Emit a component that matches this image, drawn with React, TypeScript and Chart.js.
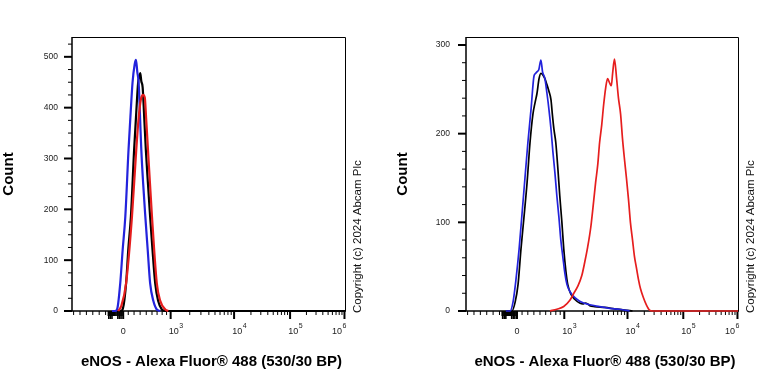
import React, { useEffect, useRef } from 'react';
import { Chart, registerables } from 'chart.js';

Chart.register(...registerables);

const FONT = '"Liberation Sans", Arial, Helvetica, sans-serif';

// ---- X axis: logicle display channels (0..1024) ----
const X_MIN = 0;
const X_MAX = 1024;
const X_TICK_CH = [192, 370, 608, 818, 1022];
const X_TICK_BASE = ['0', '10', '10', '10', '10'];
const X_TICK_EXP = ['', '3', '4', '5', '6'];
// minor tick fractions between 0 and 10^3 (100..900)
const LIN_MINOR_FRAC = [0.107, 0.229, 0.357, 0.486, 0.607, 0.714, 0.821, 0.914];
const X_TITLE = 'eNOS - Alexa Fluor® 488 (530/30 BP)';
const Y_TITLE = 'Count';
const COPYRIGHT = 'Copyright (c) 2024 Abcam Plc';

// ---- Left panel ----
const LEFT_Y_MAX = 539;
const LEFT_Y_MAJOR = [0, 100, 200, 300, 400, 500];
const LEFT_Y_MINOR_STEP = 25;

const LEFT_BLUE_CH = [150, 162, 170, 181, 190, 200, 212, 220, 227, 235, 240, 245, 250, 260, 267, 275, 284, 293, 305, 318, 331];
const LEFT_BLUE_COUNT = [0, 0, 5, 55, 120, 186, 317, 390, 449, 485, 494, 470, 449, 317, 250, 186, 120, 55, 20, 3, 0];

const LEFT_BLACK_CH = [171, 183, 191, 203, 211, 221, 233, 241, 248, 253, 256, 260, 265, 271, 277, 285, 293, 302, 312, 323, 337, 350, 1024];
const LEFT_BLACK_COUNT = [0, 0, 5, 55, 120, 186, 317, 390, 449, 462, 468, 452, 440, 380, 317, 250, 186, 120, 55, 20, 3, 0, 0];

const LEFT_RED_CH = [173, 185, 203, 225, 241, 250, 258, 266, 273, 278, 285, 300, 318, 331, 350, 361];
const LEFT_RED_COUNT = [0, 10, 55, 186, 317, 380, 415, 425, 420, 380, 317, 186, 55, 20, 3, 0];

// ---- Right panel ----
const RIGHT_Y_MAX = 309;
const RIGHT_Y_MAJOR = [0, 100, 200, 300];
const RIGHT_Y_MINOR_STEP = 20;

const RIGHT_BLUE_CH = [150, 166, 177, 188, 200, 211, 222, 233, 245, 256, 262, 268, 274, 282, 288, 297, 305, 312, 320, 327, 335, 342, 350, 357, 365, 372, 380, 391, 410, 428, 466, 503, 541, 578, 616];
const RIGHT_BLUE_COUNT = [0, 0, 10, 35, 70, 110, 150, 190, 228, 265, 268, 270, 272, 283, 270, 262, 245, 228, 205, 180, 155, 130, 105, 80, 60, 43, 30, 22, 15, 11, 7, 5, 3, 2, 0];

const RIGHT_BLACK_CH = [150, 173, 185, 196, 207, 218, 230, 241, 252, 260, 267, 275, 282, 290, 297, 305, 312, 320, 325, 331, 338, 346, 353, 361, 368, 376, 383, 395, 410, 428, 440, 449, 458, 466, 484, 522, 559, 597, 627];
const RIGHT_BLACK_COUNT = [0, 0, 10, 30, 70, 105, 145, 190, 222, 235, 245, 262, 268, 266, 262, 255, 248, 238, 222, 205, 190, 160, 130, 100, 70, 45, 30, 19, 13, 9, 8, 9, 8, 6, 5, 4, 2.5, 1, 0];

const RIGHT_RED_CH = [316, 342, 368, 391, 406, 421, 436, 447, 458, 470, 481, 488, 496, 503, 511, 518, 526, 533, 541, 547, 552, 559, 567, 574, 582, 589, 597, 604, 612, 619, 627, 634, 642, 649, 657, 668, 679, 691, 702, 1024];
const RIGHT_RED_COUNT = [0, 2, 5, 12, 20, 28, 40, 55, 72, 95, 125, 145, 165, 190, 210, 232, 252, 262, 257, 254, 268, 284, 262, 240, 222, 195, 170, 150, 125, 100, 80, 62, 48, 36, 25, 15, 7, 1, 0, 0];

const BLUE = '#2323dc';
const RED = '#e61e1e';
const BLACK = '#000000';

type PanelCfg = {
  offset: number;
  padding: { left: number; right: number; top: number; bottom: number };
  yMax: number;
  yMajor: number[];
  yMinorStep: number;
  yLabelGap: number;
  lineWidth: number;
  blue: [number[], number[]];
  black: [number[], number[]];
  red: [number[], number[]];
};

function toPts(ch: number[], cnt: number[]) {
  return ch.map((c, i) => ({ x: c, y: cnt[i] }));
}

function buildXTicks() {
  const ticks: { ch: number; len: number; w: number }[] = [];
  // negative (linear) region
  for (let c = 6; c < 134; c += 24) ticks.push({ ch: c, len: 4, w: 1 });
  // dense cluster around zero
  for (let c = 136; c < 192; c += 4) ticks.push({ ch: c, len: 5, w: 1.3 });
  [138, 144, 150, 172, 178, 184].forEach((c) => ticks.push({ ch: c, len: 8, w: 1.6 }));
  // 0 .. 10^3
  LIN_MINOR_FRAC.forEach((f) => ticks.push({ ch: X_TICK_CH[0] + (X_TICK_CH[1] - X_TICK_CH[0]) * f, len: 4, w: 1 }));
  // decades
  for (let d = 1; d < X_TICK_CH.length - 1; d++) {
    for (let k = 2; k <= 9; k++) {
      ticks.push({ ch: X_TICK_CH[d] + (X_TICK_CH[d + 1] - X_TICK_CH[d]) * Math.log10(k), len: 4, w: 1 });
    }
  }
  X_TICK_CH.forEach((c) => ticks.push({ ch: c, len: 8, w: 2 }));
  return ticks;
}

function makePlugin(cfg: PanelCfg) {
  return {
    id: 'flowAxes',
    beforeDatasetsDraw(chart: any) {
      const { ctx, chartArea: a, scales } = chart;
      const x = scales.x;
      const y = scales.y;
      ctx.save();
      ctx.strokeStyle = '#000';
      // frame
      ctx.lineWidth = 1;
      ctx.beginPath();
      ctx.moveTo(a.left, a.top + 0.5);
      ctx.lineTo(a.right + 0.5, a.top + 0.5);
      ctx.lineTo(a.right + 0.5, a.bottom);
      ctx.stroke();
      // axes
      ctx.lineWidth = 1.5;
      ctx.beginPath();
      ctx.moveTo(a.left, a.top);
      ctx.lineTo(a.left, a.bottom);
      ctx.lineTo(a.right + 1, a.bottom);
      ctx.stroke();
      // y ticks
      for (let v = 0; v <= cfg.yMax + 1e-6; v += cfg.yMinorStep) {
        const py = y.getPixelForValue(v);
        const major = cfg.yMajor.indexOf(v) >= 0;
        ctx.lineWidth = major ? 2 : 1;
        ctx.beginPath();
        ctx.moveTo(a.left - (major ? 8 : 4), py);
        ctx.lineTo(a.left, py);
        ctx.stroke();
      }
      // x ticks
      buildXTicks().forEach((t) => {
        const px = x.getPixelForValue(t.ch);
        ctx.lineWidth = t.w;
        ctx.beginPath();
        ctx.moveTo(px, a.bottom);
        ctx.lineTo(px, a.bottom + t.len);
        ctx.stroke();
      });
      ctx.restore();
    },
    afterDraw(chart: any) {
      const { ctx, chartArea: a, scales } = chart;
      const x = scales.x;
      const y = scales.y;
      ctx.save();
      // y tick labels
      ctx.fillStyle = '#222';
      ctx.font = `8.5px ${FONT}`;
      ctx.textAlign = 'right';
      ctx.textBaseline = 'middle';
      cfg.yMajor.forEach((v) => {
        ctx.fillText(String(v), a.left - cfg.yLabelGap, y.getPixelForValue(v));
      });
      // x tick labels
      X_TICK_CH.forEach((c, i) => {
        const px = x.getPixelForValue(c);
        const base = X_TICK_BASE[i];
        const exp = X_TICK_EXP[i];
        ctx.textBaseline = 'middle';
        if (!exp) {
          ctx.font = `9px ${FONT}`;
          ctx.textAlign = 'center';
          ctx.fillText(base, px, a.bottom + 21);
          return;
        }
        ctx.font = `9px ${FONT}`;
        const wb = ctx.measureText(base).width;
        ctx.font = `7px ${FONT}`;
        const we = ctx.measureText(exp).width;
        let left = px + 5 - (wb + we) / 2;
        if (left + wb + we > a.right + 1) left = a.right + 1 - wb - we;
        ctx.textAlign = 'left';
        ctx.font = `9px ${FONT}`;
        ctx.fillText(base, left, a.bottom + 21);
        ctx.font = `7px ${FONT}`;
        ctx.fillText(exp, left + wb + 0.5, a.bottom + 15);
      });
      // axis titles
      ctx.fillStyle = '#000';
      ctx.font = `bold 15px ${FONT}`;
      ctx.textAlign = 'center';
      ctx.textBaseline = 'middle';
      ctx.fillText(X_TITLE, (a.left + a.right) / 2 + 3, 362);
      ctx.save();
      ctx.translate(a.left - 63.5, (a.top + a.bottom) / 2);
      ctx.rotate(-Math.PI / 2);
      ctx.fillText(Y_TITLE, 0, 0);
      ctx.restore();
      // copyright
      ctx.save();
      ctx.translate(a.right + 12.5, a.bottom + 2);
      ctx.rotate(-Math.PI / 2);
      ctx.font = `11.5px ${FONT}`;
      ctx.textAlign = 'left';
      ctx.textBaseline = 'middle';
      ctx.fillStyle = '#111';
      ctx.fillText(COPYRIGHT, 0, 0);
      ctx.restore();
      ctx.restore();
    },
  };
}

function Panel({ cfg }: { cfg: PanelCfg }) {
  const ref = useRef<HTMLCanvasElement>(null);
  useEffect(() => {
    if (!ref.current) return;
    const mk = (label: string, color: string, d: [number[], number[]]) => ({
      label,
      data: toPts(d[0], d[1]),
      borderColor: color,
      backgroundColor: color,
      borderWidth: cfg.lineWidth,
      pointRadius: 0,
      fill: false,
      cubicInterpolationMode: 'monotone' as const,
      clip: false as any,
    });
    const chart = new Chart(ref.current, {
      type: 'line',
      data: {
        datasets: [mk('Stained', RED, cfg.red), mk('Isotype', BLUE, cfg.blue), mk('Unstained', BLACK, cfg.black)],
      },
      options: {
        responsive: false,
        animation: false,
        layout: { padding: cfg.padding },
        plugins: { legend: { display: false }, tooltip: { enabled: false } },
        scales: {
          x: { type: 'linear', min: X_MIN, max: X_MAX, display: false },
          y: { type: 'linear', min: 0, max: cfg.yMax, display: false },
        },
      },
      plugins: [makePlugin(cfg)],
    });
    return () => chart.destroy();
  }, []);
  return (
    <canvas
      ref={ref}
      width={384}
      height={384}
      style={{ position: 'absolute', left: cfg.offset, top: 0, width: 384, height: 384 }}
    />
  );
}

const LEFT_CFG: PanelCfg = {
  offset: 0,
  padding: { left: 72, right: 39, top: 37, bottom: 73 },
  yMax: LEFT_Y_MAX,
  yMajor: LEFT_Y_MAJOR,
  yMinorStep: LEFT_Y_MINOR_STEP,
  yLabelGap: 14,
  lineWidth: 2.2,
  blue: [LEFT_BLUE_CH, LEFT_BLUE_COUNT],
  black: [LEFT_BLACK_CH, LEFT_BLACK_COUNT],
  red: [LEFT_RED_CH, LEFT_RED_COUNT],
};

const RIGHT_CFG: PanelCfg = {
  offset: 384,
  padding: { left: 82, right: 30, top: 37, bottom: 73 },
  yMax: RIGHT_Y_MAX,
  yMajor: RIGHT_Y_MAJOR,
  yMinorStep: RIGHT_Y_MINOR_STEP,
  yLabelGap: 16,
  lineWidth: 1.7,
  blue: [RIGHT_BLUE_CH, RIGHT_BLUE_COUNT],
  black: [RIGHT_BLACK_CH, RIGHT_BLACK_COUNT],
  red: [RIGHT_RED_CH, RIGHT_RED_COUNT],
};

export default function App() {
  return (
    <div style={{ position: 'fixed', left: 0, top: 0, width: 768, height: 384, background: '#fff' }}>
      <Panel cfg={LEFT_CFG} />
      <Panel cfg={RIGHT_CFG} />
    </div>
  );
}
